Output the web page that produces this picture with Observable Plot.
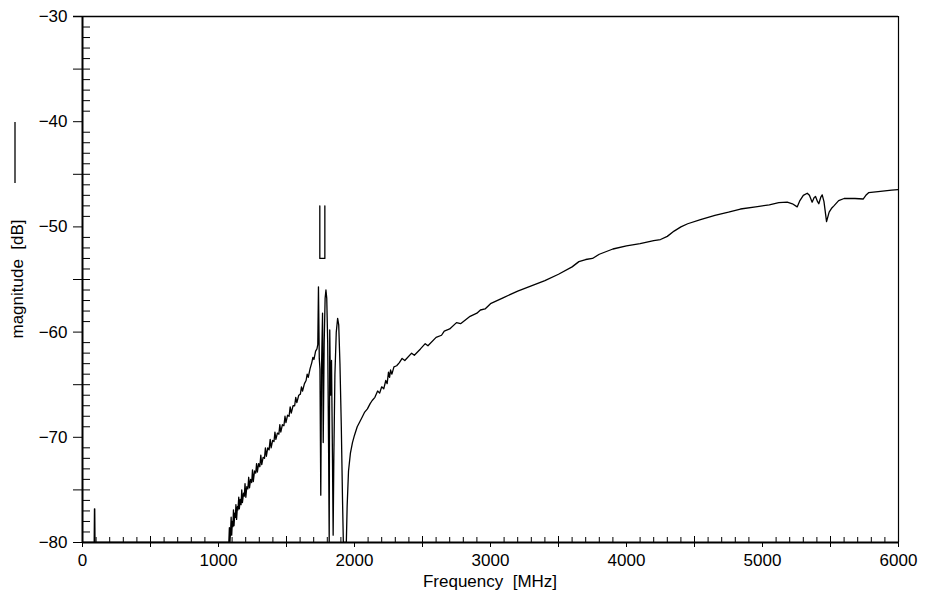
<!DOCTYPE html>
<html>
<head>
<meta charset="utf-8">
<script src="https://cdn.jsdelivr.net/npm/d3@7"></script>
<script src="https://cdn.jsdelivr.net/npm/@observablehq/plot@0.6"></script>
<style>
  html, body { margin: 0; padding: 0; background: #fff; }
  #chart svg { display: block; }
</style>
</head>
<body>
<div id="chart"></div>
<script>
// ---- data: [frequency MHz, magnitude dB] ----
const quietBand = [
  [0, -80], [86, -80], [88, -76.8], [90, -76.8], [92, -80], [1076, -80]
];
const risingSlope = [
  [1080, -78.6], [1084, -80], [1089, -78.9], [1093, -77.6], [1097, -79.3], [1102, -78.0],
  [1106, -78.5], [1110, -76.9], [1114, -78.4], [1120, -77.2], [1124, -77.6], [1128, -76.4],
  [1133, -77.8], [1139, -76.6], [1143, -76.9], [1149, -75.7], [1153, -76.8], [1160, -75.9],
  [1166, -76.4], [1171, -75.0], [1176, -76.2], [1184, -75.3], [1190, -75.6], [1195, -74.4],
  [1201, -75.7], [1208, -74.7], [1216, -74.9], [1222, -73.8], [1228, -74.8], [1236, -74.0],
  [1244, -74.3], [1250, -73.1], [1256, -74.2], [1265, -73.2], [1274, -73.4], [1280, -72.5],
  [1286, -73.3], [1295, -72.5], [1304, -72.8], [1311, -71.7], [1318, -72.6], [1328, -71.9],
  [1338, -72.0], [1345, -71.0], [1352, -71.8], [1362, -71.0], [1372, -71.2], [1380, -70.2],
  [1387, -71.0], [1398, -70.3], [1408, -70.4], [1415, -69.5], [1422, -70.2], [1433, -69.6],
  [1444, -69.7], [1451, -68.8], [1458, -69.5], [1470, -68.8], [1481, -68.9], [1489, -68.0],
  [1496, -68.6], [1508, -67.9], [1519, -68.0], [1527, -67.1], [1535, -67.7], [1548, -67.0],
  [1560, -67.0], [1568, -66.2], [1576, -66.7], [1590, -66.0], [1602, -65.9], [1610, -65.2],
  [1618, -65.6], [1632, -64.9], [1644, -64.6], [1652, -64.0], [1660, -64.3], [1673, -63.5],
  [1686, -62.9], [1694, -62.4], [1702, -62.6], [1714, -61.8], [1724, -61.6], [1730, -61.2]
];
const resonanceBand = [
  [1735, -55.7], [1741, -62.5], [1746, -63.5], [1752, -75.5], [1758, -63.0], [1765, -58.2],
  [1770, -70.5], [1777, -61.0], [1784, -56.8], [1790, -56.0], [1796, -56.8], [1803, -61.0],
  [1810, -72.0], [1814, -80], [1818, -59.8], [1824, -66.0], [1831, -62.7], [1838, -72.0],
  [1843, -79.3], [1848, -72.0], [1856, -64.0], [1866, -60.0], [1876, -58.7], [1884, -59.3],
  [1893, -63.0], [1903, -69.0], [1912, -76.0], [1918, -80], [1940, -80]
];
const upperBand = [
  [1946, -76.5], [1956, -73.2], [1970, -71.5], [1985, -70.5], [2000, -69.8], [2020, -69.0],
  [2040, -68.5], [2056, -68.1], [2075, -67.6], [2095, -67.3], [2115, -66.8], [2130, -66.5],
  [2150, -66.2], [2170, -65.6], [2185, -65.8], [2200, -65.2], [2215, -65.4], [2230, -64.6],
  [2240, -64.9], [2250, -63.8], [2258, -64.3], [2265, -63.6], [2275, -64.0], [2290, -63.3],
  [2310, -63.2], [2330, -62.9], [2350, -62.5], [2370, -62.7], [2420, -62.0], [2440, -62.2],
  [2485, -61.6], [2520, -61.1], [2540, -61.3], [2600, -60.5], [2640, -60.3], [2660, -59.9],
  [2700, -59.7], [2750, -59.1], [2780, -59.2], [2850, -58.5], [2900, -58.2], [2926, -57.9],
  [2960, -57.8], [3000, -57.3], [3100, -56.7], [3200, -56.1], [3300, -55.6], [3400, -55.1],
  [3500, -54.5], [3600, -53.8], [3650, -53.3], [3700, -53.1], [3750, -53.0], [3800, -52.6],
  [3900, -52.1], [4000, -51.8], [4100, -51.6], [4200, -51.3], [4250, -51.2], [4300, -50.9],
  [4350, -50.4], [4400, -50.0], [4450, -49.7], [4544, -49.3], [4650, -48.9], [4750, -48.6],
  [4838, -48.3], [4950, -48.1], [5050, -47.9], [5120, -47.7], [5182, -47.65], [5220, -47.8],
  [5255, -48.1], [5275, -47.5], [5300, -47.0], [5329, -46.8], [5345, -47.0], [5365, -47.65],
  [5380, -47.2], [5390, -47.1], [5405, -47.6], [5414, -47.8], [5428, -47.2], [5439, -46.95],
  [5452, -47.6], [5471, -49.5], [5490, -48.6], [5510, -48.2], [5525, -48.0], [5560, -47.5],
  [5600, -47.3], [5680, -47.3], [5740, -47.35], [5760, -47.0], [5780, -46.75], [5850, -46.65],
  [5950, -46.5], [6000, -46.45]
];
const markerFreq = [1745, 1745, 1782, 1782];
const markerDb = [-48, -53, -53, -48];

const xTickLabels = [0, 1000, 2000, 3000, 4000, 5000, 6000];
const xMidTicks = [500, 1500, 2500, 3500, 4500, 5500];
const xMinorTicks = d3.range(100, 6000, 100).filter(d => d % 500 !== 0);
const yTickLabels = [-80, -70, -60, -50, -40, -30];
const yMidTicks = [-75, -65, -55, -45, -35];
const yMinorTicks = d3.range(-79, -30, 1).filter(d => d % 5 !== 0);

const xTitle = "Frequency\u00a0\u00a0[MHz]";
const yTitle = "magnitude\u00a0\u00a0[dB]";

// ---- build tables ----
const trace = [...quietBand, ...risingSlope, ...resonanceBand, ...upperBand]
  .map(([f, db]) => ({f, db}));
const marker = markerFreq.map((f, i) => ({f, db: markerDb[i]}));

const W = 926, H = 596, mL = 82, mR = 28, mT = 16, mB = 54;
const frameH = H - mT - mB, frameW = W - mL - mR;
const fmt = d => d < 0 ? "\u2212" + (-d) : String(d);

const chart = Plot.plot({
  width: W, height: H,
  marginLeft: mL, marginRight: mR, marginTop: mT, marginBottom: mB,
  x: {domain: [0, 6000]},
  y: {domain: [-80, -30]},
  style: {fontFamily: "'Liberation Sans', Arial, sans-serif", fontSize: "17px", color: "#000", background: "#fff"},
  marks: [
    // ticks
    Plot.ruleX(xMinorTicks, {x: d => d, insetTop: frameH - 5, stroke: "#000", strokeWidth: 1}),
    Plot.ruleX(xMidTicks, {x: d => d, insetTop: frameH - 6, insetBottom: -5, stroke: "#000", strokeWidth: 1}),
    Plot.ruleX(xTickLabels, {x: d => d, insetTop: frameH, insetBottom: -5, stroke: "#000", strokeWidth: 1}),
    Plot.ruleY(yMinorTicks, {y: d => d, insetRight: frameW - 8, stroke: "#000", strokeWidth: 1}),
    Plot.ruleY(yMidTicks, {y: d => d, insetLeft: -9, insetRight: frameW - 8, stroke: "#000", strokeWidth: 1}),
    Plot.ruleY(yTickLabels, {y: d => d, insetLeft: -9, insetRight: frameW, stroke: "#000", strokeWidth: 1}),
    // frame
    Plot.ruleY([-30], {insetLeft: -9, stroke: "#000", strokeWidth: 1.3}),
    Plot.ruleX([6000], {stroke: "#000", strokeWidth: 1.2}),
    Plot.ruleY([-80], {stroke: "#000", strokeWidth: 2}),
    Plot.ruleX([0], {stroke: "#000", strokeWidth: 2}),
    // data
    Plot.line(trace, {x: "f", y: "db", stroke: "#000", strokeWidth: 1.3, clip: true}),
    Plot.line(marker, {x: "f", y: "db", stroke: "#000", strokeWidth: 1.3}),
    // tick labels
    Plot.axisX(xTickLabels, {tickSize: 0, tickPadding: 11, label: null, tickFormat: fmt, fill: "#000"}),
    Plot.axisY(yTickLabels, {tickSize: 0, tickPadding: 15, label: null, tickFormat: fmt, fill: "#000"})
  ]
});

const svg = d3.select(chart);
svg.append("text")
  .attr("x", mL + frameW / 2).attr("y", 587)
  .attr("text-anchor", "middle")
  .attr("fill", "#000")
  .style("font-size", "17px")
  .text(xTitle);
svg.append("text")
  .attr("transform", `translate(23, ${mT + frameH / 2}) rotate(-90)`)
  .attr("text-anchor", "middle")
  .attr("fill", "#000")
  .style("font-size", "17px")
  .text(yTitle);
// legend line sample for the trace
svg.append("line")
  .attr("x1", 15).attr("x2", 15).attr("y1", 122).attr("y2", 183)
  .attr("stroke", "#000").attr("stroke-width", 1.3);

document.getElementById("chart").append(chart);
</script>
</body>
</html>
